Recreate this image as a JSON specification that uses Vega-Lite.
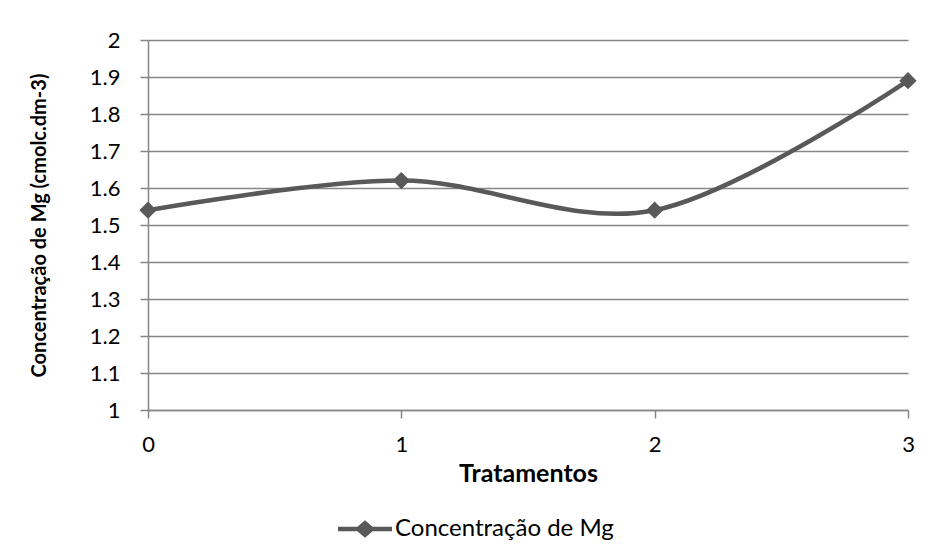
{
  "$schema": "https://vega.github.io/schema/vega-lite/v6.json",
  "width": 760,
  "height": 370,
  "autosize": {"type": "none"},
  "padding": {"left": 148, "top": 40, "right": 24, "bottom": 147},
  "background": "white",
  "config": {
    "view": {"stroke": null},
    "font": "Lato",
    "axis": {
      "labelFont": "Lato",
      "titleFont": "Lato",
      "labelFontSize": 22,
      "labelColor": "black",
      "titleColor": "black",
      "titleFontWeight": "bold",
      "domainColor": "#868686",
      "tickColor": "#868686",
      "gridColor": "#868686",
      "gridOpacity": 1,
      "tickSize": 8,
      "domainWidth": 1.5,
      "gridWidth": 1.5,
      "tickWidth": 1.5
    },
    "legend": {"labelFont": "Lato", "labelFontSize": 24, "labelColor": "black", "labelLimit": 0}
  },
  "data": {
    "values": [
      {"tratamento": 0, "mg": 1.54, "serie": "Concentração de Mg"},
      {"tratamento": 1, "mg": 1.62, "serie": "Concentração de Mg"},
      {"tratamento": 2, "mg": 1.54, "serie": "Concentração de Mg"},
      {"tratamento": 3, "mg": 1.89, "serie": "Concentração de Mg"}
    ]
  },
  "encoding": {
    "x": {
      "field": "tratamento",
      "type": "quantitative",
      "scale": {"domain": [0, 3], "nice": false, "zero": false},
      "axis": {
        "title": "Tratamentos",
        "titleFontSize": 25,
        "values": [0, 1, 2, 3],
        "format": "d",
        "grid": false,
        "labelPadding": 16,
        "titlePadding": 6,
        "labelFlush": false
      }
    },
    "y": {
      "field": "mg",
      "type": "quantitative",
      "scale": {"domain": [1, 2], "nice": false, "zero": false},
      "axis": {
        "title": "Concentração de Mg (cmolc.dm-3)",
        "titleFontSize": 20,
        "values": [1, 1.1, 1.2, 1.3, 1.4, 1.5, 1.6, 1.7, 1.8, 1.9, 2],
        "format": ".1~f",
        "grid": true,
        "labelPadding": 20,
        "titlePadding": 40,
        "labelFlush": false
      }
    }
  },
  "layer": [
    {
      "mark": {"type": "line", "interpolate": "cardinal", "stroke": "#595959", "strokeWidth": 4.5}
    },
    {
      "mark": {"type": "point", "shape": "diamond", "filled": true, "size": 300, "opacity": 1},
      "encoding": {
        "color": {
          "field": "serie",
          "type": "nominal",
          "scale": {"range": ["#595959"]},
          "legend": {
            "title": null,
            "orient": "none",
            "legendX": 190,
            "legendY": 462,
            "direction": "horizontal",
            "symbolType": "M-1,-0.08L-0.28,-0.08L0,-0.32L0.28,-0.08L1,-0.08L1,0.08L0.28,0.08L0,0.32L-0.28,0.08L-1,0.08Z",
            "symbolSize": 2916,
            "symbolFillColor": "#595959",
            "symbolStrokeWidth": 0,
            "labelOffset": 3,
            "encode": {
              "symbols": {
                "update": {
                  "shape": {"value": "M-1,-0.08L-0.28,-0.08L0,-0.32L0.28,-0.08L1,-0.08L1,0.08L0.28,0.08L0,0.32L-0.28,0.08L-1,0.08Z"},
                  "fill": {"value": "#595959"},
                  "stroke": {"value": "transparent"},
                  "opacity": {"value": 1},
                  "size": {"value": 2916}
                }
              }
            }
          }
        }
      }
    }
  ]
}
